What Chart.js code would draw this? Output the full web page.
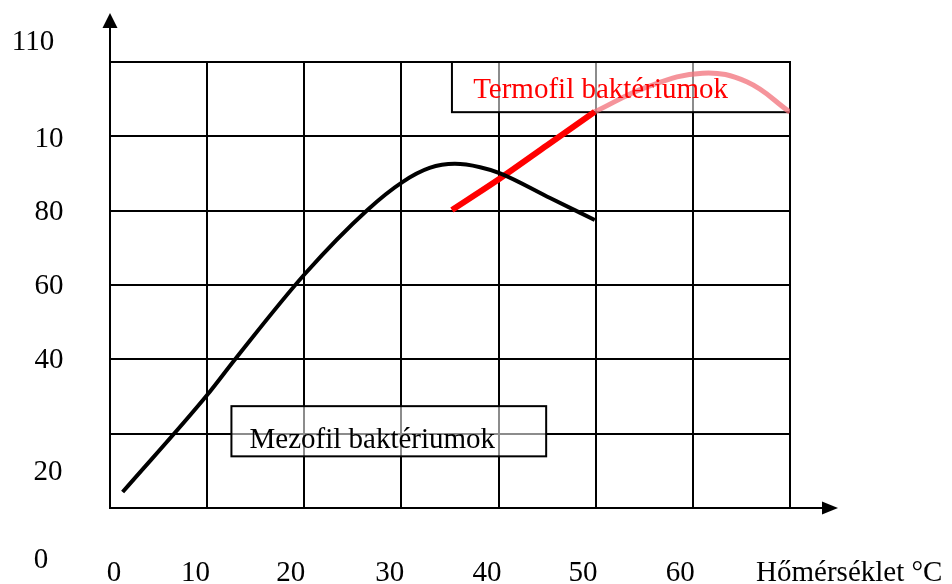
<!DOCTYPE html>
<html>
<head>
<meta charset="utf-8">
<script src="https://cdn.jsdelivr.net/npm/chart.js@4/dist/chart.umd.min.js"></script>
<style>
  html, body { margin: 0; padding: 0; background: #fff; }
  canvas { display: block; }
</style>
</head>
<body>
<canvas id="chart" width="952" height="584"></canvas>
<script>
'use strict';

/*===== Données =====*/
// courbe mezofil (noire)
const mezoTemp  = [1.3, 10, 12.9, 20.1, 26.5, 30.1, 32.9, 35.5, 38.1, 40.1, 45.3, 49.9];
const mezoValue = [4.3, 30.4, 40.1, 63.1, 80.2, 87.7, 91.5, 92.6, 91.7, 90.1, 83.4, 77.5];

// courbe termofil (rouge)
const termoTemp  = [35.2, 40.1, 45, 49.9];
const termoValue = [80.2, 88.6, 97.6, 106.6];

// suite de la courbe termofil (rose pale)
const termoFadeTemp  = [49.9, 55.3, 61.0, 65.6, 70];
const termoFadeValue = [106.6, 113.3, 117.0, 114.6, 106.5];

// étiquettes des axes telles qu'elles apparaissent
const yTickLabels = ['110', '10', '80', '60', '40', '20', '0'];
const xTickLabels = ['0', '10', '20', '30', '40', '50', '60', 'Hőmérséklet °C'];
const boxLabels = ['Mezofil baktériumok', 'Termofil baktériumok'];

/*===== Placement des étiquettes (en unités des axes) =====*/
const yTickAt = [125.3, 99.3, 79.6, 59.6, 39.6, 9.5, -14.2];
const yTickX  = [33, 49, 49, 49, 49, 48, 41];
const xTickAt = [0.4, 8.8, 18.6, 28.8, 38.8, 48.7, 58.7, 76.1];
const xTickY  = -17.5;

const FONT = '29px "Liberation Serif", "Times New Roman", serif';

const ctx = document.getElementById('chart').getContext('2d');

function toPoints(xs, ys) {
  return xs.map((x, i) => ({ x: x, y: ys[i] }));
}

/*===== Plugin : flèches, étiquettes, cadres =====*/
const decor = {
  id: 'decor',
  beforeDatasetsDraw(chart) {
    const c = chart.ctx;
    const sx = chart.scales.x, sy = chart.scales.y;
    // cadres semi-transparents
    const boxes = [
      [12.5, 44.9, 27.4, 13.9],
      [35.2, 70, 120, 106.5]
    ];
    c.save();
    boxes.forEach(b => {
      const x1 = sx.getPixelForValue(b[0]), x2 = sx.getPixelForValue(b[1]);
      const y1 = sy.getPixelForValue(b[2]), y2 = sy.getPixelForValue(b[3]);
      c.fillStyle = 'rgba(255,255,255,0.55)';
      c.fillRect(x1, y1, x2 - x1, y2 - y1);
      c.strokeStyle = '#000';
      c.lineWidth = 2;
      c.strokeRect(x1, y1, x2 - x1, y2 - y1);
    });
    c.restore();
  },
  afterDatasetsDraw(chart) {
    const c = chart.ctx;
    const sx = chart.scales.x, sy = chart.scales.y;
    const area = chart.chartArea;
    c.save();

    // axes prolongés + flèches
    c.strokeStyle = '#000';
    c.fillStyle = '#000';
    c.lineWidth = 2;
    c.beginPath();
    c.moveTo(area.left, area.top);
    c.lineTo(area.left, 26);
    c.moveTo(area.right, area.bottom);
    c.lineTo(825, area.bottom);
    c.stroke();
    c.beginPath();
    c.moveTo(area.left, 13);
    c.lineTo(area.left - 7.5, 28);
    c.lineTo(area.left + 7.5, 28);
    c.closePath();
    c.fill();
    c.beginPath();
    c.moveTo(838, area.bottom);
    c.lineTo(822, area.bottom - 6.5);
    c.lineTo(822, area.bottom + 6.5);
    c.closePath();
    c.fill();

    // étiquettes
    c.font = FONT;
    c.textAlign = 'center';
    c.textBaseline = 'middle';
    c.fillStyle = '#000';
    yTickLabels.forEach((t, i) => {
      c.fillText(t, yTickX[i], sy.getPixelForValue(yTickAt[i]));
    });
    xTickLabels.forEach((t, i) => {
      c.fillText(t, sx.getPixelForValue(xTickAt[i]), sy.getPixelForValue(xTickY));
    });

    // textes des cadres
    c.fillText(boxLabels[0], sx.getPixelForValue(27.0), sy.getPixelForValue(18.3));
    c.fillStyle = '#ff0000';
    c.fillText(boxLabels[1], sx.getPixelForValue(50.5), sy.getPixelForValue(112.4));
    c.restore();
  }
};

/*===== Graphique =====*/
new Chart(ctx, {
  type: 'line',
  data: {
    datasets: [
      {
        label: 'Mezofil',
        data: toPoints(mezoTemp, mezoValue),
        borderColor: '#000',
        borderWidth: 4,
        pointRadius: 0,
        cubicInterpolationMode: 'monotone',
        fill: false
      },
      {
        label: 'Termofil',
        data: toPoints(termoTemp, termoValue),
        borderColor: '#ff0000',
        borderWidth: 6,
        pointRadius: 0,
        tension: 0.3,
        fill: false
      },
      {
        label: 'Termofil (suite)',
        data: toPoints(termoFadeTemp, termoFadeValue),
        borderColor: 'rgba(242,112,122,0.75)',
        borderWidth: 5,
        pointRadius: 0,
        tension: 0.4,
        fill: false
      }
    ]
  },
  options: {
    responsive: false,
    animation: false,
    layout: { padding: { left: 110, right: 162, top: 62, bottom: 76 } },
    plugins: {
      legend: { display: false },
      tooltip: { enabled: false },
      title: { display: false }
    },
    scales: {
      x: {
        type: 'linear',
        min: 0,
        max: 70,
        ticks: { display: false, stepSize: 10 },
        grid: { color: '#000', lineWidth: 2, drawTicks: false },
        border: { display: true, color: '#000', width: 2 }
      },
      y: {
        type: 'linear',
        min: 0,
        max: 120,
        ticks: { display: false, stepSize: 20 },
        grid: { color: '#000', lineWidth: 2, drawTicks: false },
        border: { display: true, color: '#000', width: 2 }
      }
    }
  },
  plugins: [decor]
});
</script>
</body>
</html>
